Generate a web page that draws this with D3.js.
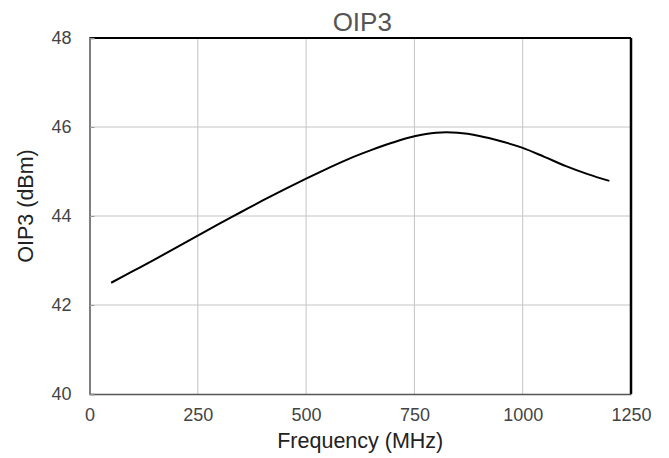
<!DOCTYPE html>
<html>
<head>
<meta charset="utf-8">
<script src="https://cdn.jsdelivr.net/npm/d3@7"></script>
<style>
  body { margin: 0; background: #fff; }
  text { font-family: "Liberation Sans", Arial, sans-serif; }
  .grid line { stroke: #c4c4c4; stroke-width: 1; }
  .tick-label { fill: #444; font-size: 18px; }
  .axis-label { fill: #222; font-size: 21.5px; }
  .chart-title { fill: #555; font-size: 26px; }
  .line { fill: none; stroke: #000; stroke-width: 2; }
</style>
</head>
<body>
<svg class="oip3-chart"></svg>
<script>
var frequency = [50, 100, 150, 200, 250, 300, 350, 400, 450, 500, 550, 600,
                 650, 700, 750, 800, 850, 900, 950, 1000, 1050, 1100, 1150, 1200];
var oip3 = [42.50, 42.76, 43.02, 43.29, 43.56, 43.83, 44.09, 44.35, 44.60, 44.84, 45.07, 45.29,
            45.48, 45.65, 45.79, 45.87, 45.87, 45.80, 45.68, 45.53, 45.33, 45.12, 44.94, 44.79];
var xTicks = [0, 250, 500, 750, 1000, 1250];
var yTicks = [40, 42, 44, 46, 48];

var margin = {top: 38, right: 38, bottom: 64, left: 89.5};
var width = 669 - margin.left - margin.right;
var height = 458 - margin.top - margin.bottom;

var data = frequency.map(function(f, i) { return {freq: f, value: oip3[i]}; });

var x = d3.scaleLinear().domain([0, 1250]).range([0, width]);
var y = d3.scaleLinear().domain([40, 48]).range([height, 0]);

var valueline = d3.line()
  .curve(d3.curveCatmullRom)
  .x(function(d) { return x(d.freq); })
  .y(function(d) { return y(d.value); });

var chart = d3.select(".oip3-chart")
  .attr("width", 669)
  .attr("height", 458)
  .append("g")
  .attr("transform", "translate(" + margin.left + "," + margin.top + ")");

// grid
var grid = chart.append("g").attr("class", "grid");
grid.selectAll(".vgrid")
  .data(xTicks.slice(1, -1))
  .enter().append("line")
  .attr("x1", function(d) { return x(d); })
  .attr("x2", function(d) { return x(d); })
  .attr("y1", 0)
  .attr("y2", height);
grid.selectAll(".hgrid")
  .data(yTicks.slice(1, -1))
  .enter().append("line")
  .attr("x1", 0)
  .attr("x2", width)
  .attr("y1", function(d) { return y(d); })
  .attr("y2", function(d) { return y(d); });

// frame
chart.append("line")
  .attr("x1", 0).attr("x2", width).attr("y1", 0).attr("y2", 0)
  .attr("stroke", "#000").attr("stroke-width", 2);
chart.append("line")
  .attr("x1", width).attr("x2", width).attr("y1", 0).attr("y2", height)
  .attr("stroke", "#000").attr("stroke-width", 2.5);

chart.append("g")
  .attr("transform", "translate(0," + height + ")")
  .call(d3.axisBottom(x).tickValues(xTicks).tickFormat(d3.format("d")).tickSize(0).tickPadding(14))
  .call(function(g) {
    g.select(".domain").attr("stroke", "#555").attr("stroke-width", 1.5);
    g.selectAll("text").attr("class", "tick-label").attr("fill", null);
  });

chart.append("g")
  .call(d3.axisLeft(y).tickValues(yTicks).tickSize(-5).tickPadding(18))
  .call(function(g) {
    g.select(".domain").attr("stroke", "#555").attr("stroke-width", 1.5);
    g.selectAll("line").attr("stroke", "#999");
    g.selectAll("text").attr("class", "tick-label").attr("fill", null);
  });

chart.append("path")
  .data([data])
  .attr("class", "line")
  .attr("d", valueline);

chart.append("text")
  .attr("class", "axis-label")
  .attr("transform", "rotate(-90)")
  .attr("y", 0 - margin.left + 33)
  .attr("x", 0 - (height / 2) + 10)
  .style("text-anchor", "middle")
  .text("OIP3 (dBm)");

chart.append("text")
  .attr("class", "axis-label")
  .style("text-anchor", "middle")
  .attr("y", height + 54)
  .attr("x", width / 2)
  .text("Frequency (MHz)");

chart.append("text")
  .attr("class", "chart-title")
  .attr("x", width / 2 + 2)
  .attr("y", -7)
  .attr("text-anchor", "middle")
  .text("OIP3");
</script>
</body>
</html>
